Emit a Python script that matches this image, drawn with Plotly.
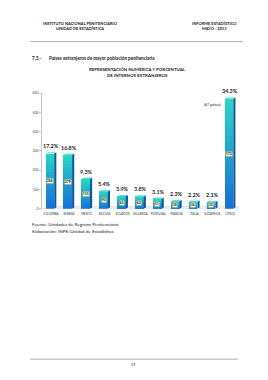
import plotly.graph_objects as go

W, H = 268, 380

countries = ["COLOMBIA", "ESPAÑA", "MEXICO", "BOLIVIA", "ECUADOR", "HOLANDA",
             "PORTUGAL", "FRANCIA", "ITALIA", "SUDAFRICA", "OTROS"]
internos = [286, 279, 155, 90, 65, 63, 51, 38, 36, 35, 570]
porcentaje = [17.2, 16.8, 9.3, 5.4, 3.9, 3.8, 3.1, 2.3, 2.2, 2.1, 34.3]
y_ticks = [0, 100, 200, 300, 400, 500, 600]

FONT = "Lato"
TOP_C = (40, 212, 196)
BOT_C = (22, 112, 214)
SIDE_C = "#0d5a9e"
TOPFACE_C = "#63e0d2"


def px(x):
    return x / W


def py(y):
    return 1 - y / H


def mix(t):
    r = [round(BOT_C[k] + (TOP_C[k] - BOT_C[k]) * t) for k in range(3)]
    return "rgb(%d,%d,%d)" % tuple(r)


xs = list(range(len(countries)))
fig = go.Figure()

N = 18
BW = 0.48
OFF = -0.06
for s in range(N):
    fig.add_trace(go.Bar(
        x=xs, y=[v / N for v in internos], width=BW, offset=OFF - BW / 2,
        marker=dict(color=mix(s / (N - 1)), line=dict(width=0)),
        hoverinfo="skip", showlegend=False))

DX = 0.12
DY = 7
shapes = []
for i, v in enumerate(internos):
    xl = i + OFF - BW / 2
    xr = i + OFF + BW / 2
    shapes.append(dict(type="path", xref="x", yref="y",
                       path=f"M {xr},0 L {xr + DX},{DY} L {xr + DX},{v + DY} L {xr},{v} Z",
                       fillcolor=SIDE_C, line=dict(width=0), layer="above"))
    shapes.append(dict(type="path", xref="x", yref="y",
                       path=f"M {xl},{v} L {xr},{v} L {xr + DX},{v + DY} L {xl + DX},{v + DY} Z",
                       fillcolor=TOPFACE_C, line=dict(width=0), layer="above"))

# floor
n = len(countries)
shapes.append(dict(type="path", xref="x", yref="y",
                   path=f"M -0.5,0 L {n - 0.5},0 L {n - 0.5 + 0.6},{DY * 1.6} L {-0.5 + 0.6},{DY * 1.6} Z",
                   fillcolor="rgba(230,230,230,0.6)", line=dict(color="#d0d0d0", width=0.6),
                   layer="below"))

# page lines
shapes.append(dict(type="line", xref="paper", yref="paper", x0=px(30), x1=px(243),
                   y0=py(40), y1=py(40), line=dict(color="#9a9a9a", width=0.8)))
shapes.append(dict(type="line", xref="paper", yref="paper", x0=px(30), x1=px(238),
                   y0=py(361), y1=py(361), line=dict(color="#9a9a9a", width=0.8)))

ann = []
for i, (v, p) in enumerate(zip(internos, porcentaje)):
    ann.append(dict(x=i + OFF + 0.06, y=v + DY, xref="x", yref="y", text=f"<b>{p:.1f}%</b>",
                    showarrow=False, yanchor="bottom", yshift=1,
                    font=dict(family=FONT, size=5.4, color="#222")))
    ann.append(dict(x=i + OFF, y=v / 2, xref="x", yref="y", text=f"<b>{v}</b>",
                    showarrow=False, bgcolor="#eaf6e2", bordercolor="#6f8f7a",
                    borderwidth=0.5, borderpad=0.3,
                    font=dict(family=FONT, size=3.4, color="#1d3b2b")))

ann.append(dict(x=n - 1 + OFF - 0.35, y=internos[-1] - 30, xref="x", yref="y",
                text="(67 países)", showarrow=False, xanchor="right",
                font=dict(family=FONT, size=3.6, color="#222")))


def txt(x, y, t, size=4.2, anchor="left", bold=False, color="#222"):
    if bold:
        t = f"<b>{t}</b>"
    ann.append(dict(x=px(x), y=py(y), xref="paper", yref="paper", text=t,
                    showarrow=False, xanchor=anchor, yanchor="middle",
                    font=dict(family=FONT, size=size, color=color)))


txt(80, 22, "INSTITUTO NACIONAL PENITENCIARIO", 4.0, "center", True)
txt(80, 27, "UNIDAD DE ESTADÍSTICA", 4.0, "center", True)
txt(214, 22, "INFORME ESTADÍSTICO", 4.0, "center", True)
txt(214, 27, "MAYO - 2013", 4.0, "center", True)
txt(30, 57, "7.3.-", 4.6, "left", True)
txt(47, 57, "Países extranjeros de mayor población penitenciaria", 4.6, "left", True)
txt(137, 68, "REPRESENTACIÓN NUMÉRICA Y PORCENTUAL", 4.4, "center", True)
txt(137, 74, "DE INTERNOS EXTRANJEROS", 4.4, "center", True)
txt(30, 224, "Fuente: Unidades de Registro Penitenciario", 4.6, "left")
txt(30, 231, "Elaboración: INPE/Unidad de Estadística", 4.6, "left")
txt(133, 366, "51", 4.0, "center")

fig.update_layout(
    width=W, height=H, margin=dict(l=0, r=0, t=0, b=0),
    paper_bgcolor="white", plot_bgcolor="white",
    barmode="stack", bargap=0,
    shapes=shapes, annotations=ann,
    xaxis=dict(domain=[px(42), px(239)], range=[-0.5, n - 0.5],
               tickmode="array", tickvals=xs, ticktext=countries, tickangle=0,
               tickfont=dict(family=FONT, size=2.9, color="#333"),
               showgrid=False, zeroline=False, showline=False, ticks="",
               ticklabelstandoff=2, fixedrange=True),
    yaxis=dict(domain=[py(209), py(92)], range=[0, 600],
               tickmode="array", tickvals=y_ticks,
               tickfont=dict(family=FONT, size=3.4, color="#444"),
               showgrid=False, zeroline=False, showline=True, linecolor="#c8c8c8",
               linewidth=0.6, ticks="outside", ticklen=2, tickcolor="#c8c8c8",
               tickwidth=0.6, fixedrange=True),
    font=dict(family=FONT),
)

fig.write_html("out.html")
